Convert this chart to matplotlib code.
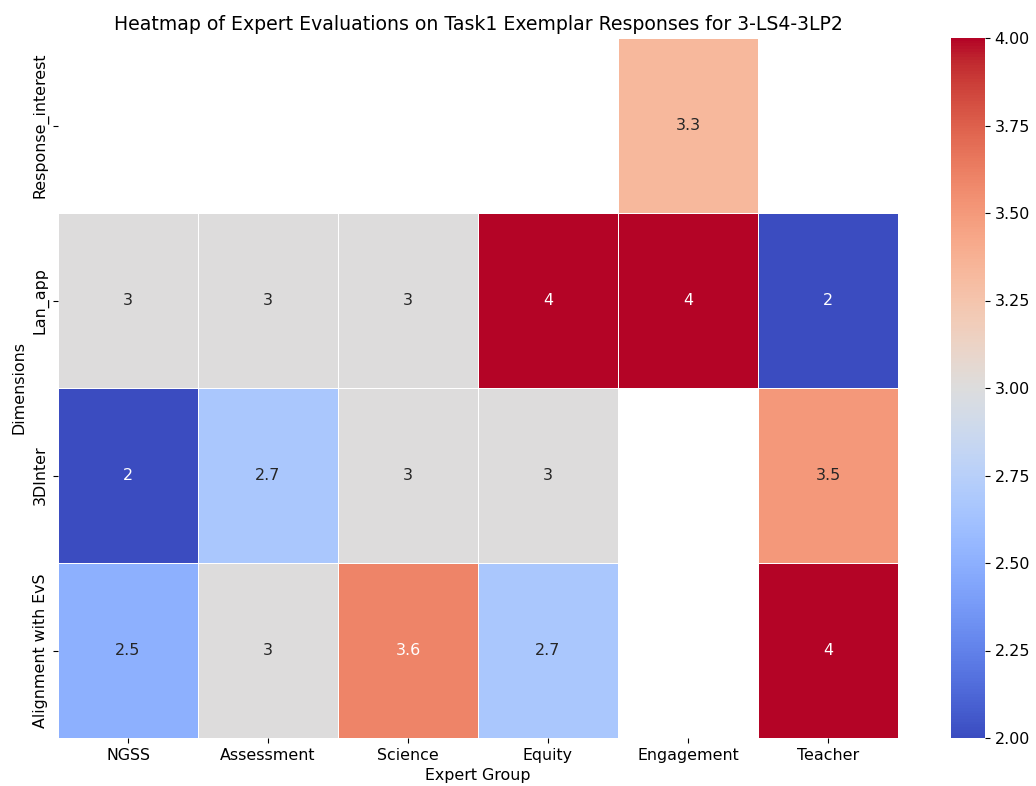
import numpy as np
import pandas as pd
import matplotlib
matplotlib.use("Agg")
import matplotlib.pyplot as plt
import seaborn as sns

groups = ["NGSS", "Assessment", "Science", "Equity", "Engagement", "Teacher"]
dimensions = ["Response_interest", "Lan_app", "3DInter", "Alignment with EvS"]

response_interest = [np.nan, np.nan, np.nan, np.nan, 3.333, np.nan]
lan_app = [3, 3, 3, 4, 4, 2]
three_d_inter = [2, 2.667, 3, 3, np.nan, 3.5]
alignment_evs = [2.5, 3, 3.6, 2.667, np.nan, 4]

scores = pd.DataFrame(
    [response_interest, lan_app, three_d_inter, alignment_evs],
    index=dimensions, columns=groups,
)

fs = 11.4
fig = plt.figure(figsize=(10.36, 7.86), dpi=100)
ax = fig.add_axes([58 / 1036, 1 - 738 / 786, (898 - 58) / 1036, 700 / 786])
cax = fig.add_axes([951 / 1036, 1 - 738 / 786, 34 / 1036, 700 / 786])

sns.heatmap(scores, annot=True, annot_kws={"fontsize": fs}, cmap="coolwarm",
            vmin=2, vmax=4, linewidths=0.5, linecolor="white", ax=ax, cbar_ax=cax)

ax.set_title("Heatmap of Expert Evaluations on Task1 Exemplar Responses for 3-LS4-3LP2",
             fontsize=13.6)
ax.set_xlabel("Expert Group", fontsize=fs)
ax.set_ylabel("Dimensions", fontsize=fs)
ax.tick_params(labelsize=fs)
cax.tick_params(labelsize=fs)

fig.savefig("out.png", dpi=100)
